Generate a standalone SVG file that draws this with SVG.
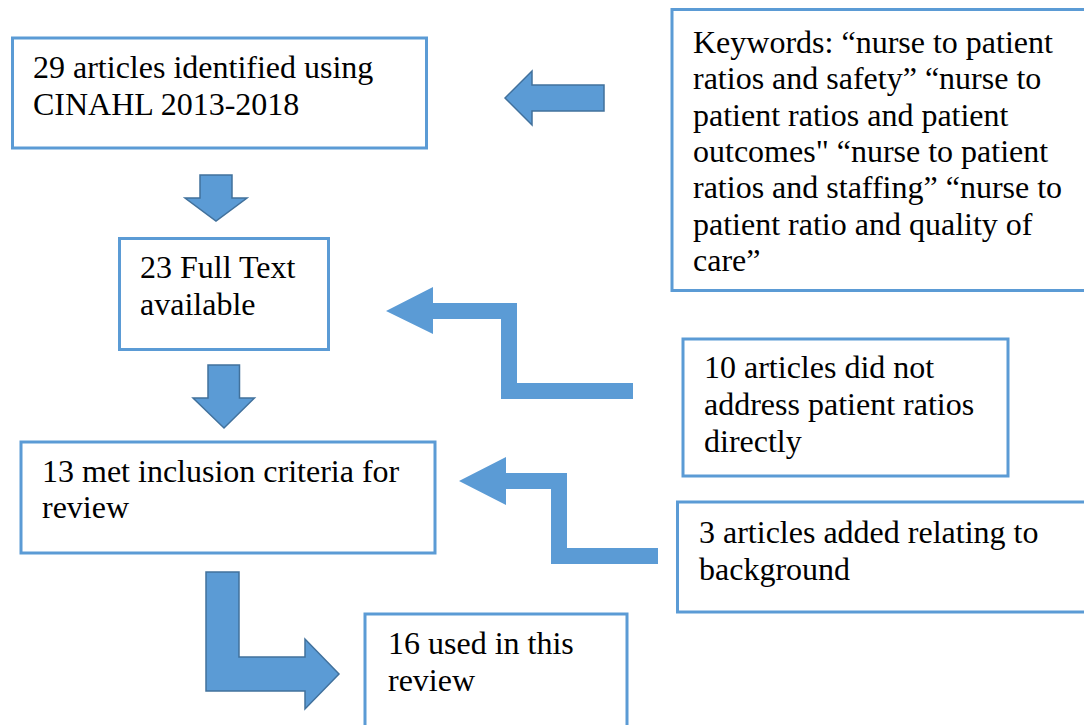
<svg xmlns="http://www.w3.org/2000/svg" width="1084" height="725" viewBox="0 0 1084 725">
<style>
.box{fill:#fff;stroke:#5B9BD5;stroke-width:3}
.t{font-family:'Liberation Serif','Times New Roman',serif;font-size:32px;fill:#000}
.arr{fill:#5B9BD5;stroke:#41719C;stroke-width:1.5;stroke-linejoin:miter}
.arr2{fill:#5B9BD5;stroke:none}
</style>
<rect width="1084" height="725" fill="#fff"/>
<g id="connectors">
<polygon class="arr" points="505,98 532,71 532,85 604,85 604,111 532,111 532,125"/>
<polygon class="arr" points="200,175 232,175 232,198 247,198 216,221 185,198 200,198"/>
<polygon class="arr" points="208,365 239.5,365 239.5,398 254.5,398 224,428 193,398 208,398"/>
<polygon class="arr2" points="386,311 433,287 433,303 517,303 517,383 633,383 633,399 501,399 501,319 433,319 433,334"/>
<polygon class="arr2" points="459,481 506,457 506,473 567,473 567,548 658,548 658,564 551,564 551,489 506,489 506,505"/>
<polygon class="arr" points="206,572 239,572 239,657 305,657 305,639 339,674 305,709 305,691 206,691"/>
</g>
<g id="n1">
<rect class="box" x="12.5" y="38" width="414" height="110"/>
<text class="t" x="33" y="78">29 articles identified using</text>
<text class="t" x="33" y="115">CINAHL 2013-2018</text>
</g>
<g id="n-keywords">
<rect class="box" x="672" y="9.5" width="420" height="281"/>
<text class="t" x="693" y="53">Keywords: “nurse to patient</text>
<text class="t" x="693" y="89">ratios and safety” “nurse to</text>
<text class="t" x="693" y="125.5">patient ratios and patient</text>
<text class="t" x="693" y="162">outcomes" “nurse to patient</text>
<text class="t" x="693" y="198">ratios and staffing” “nurse to</text>
<text class="t" x="693" y="234.5">patient ratio and quality of</text>
<text class="t" x="693" y="271">care”</text>
</g>
<g id="n2">
<rect class="box" x="119.5" y="238.5" width="209" height="111"/>
<text class="t" x="140" y="278">23 Full Text</text>
<text class="t" x="140" y="315">available</text>
</g>
<g id="n-excluded">
<rect class="box" x="683" y="339" width="325" height="137"/>
<text class="t" x="704" y="378">10 articles did not</text>
<text class="t" x="704" y="415">address patient ratios</text>
<text class="t" x="704" y="452">directly</text>
</g>
<g id="n-added">
<rect class="box" x="677.5" y="502" width="420" height="110"/>
<text class="t" x="699" y="543">3 articles added relating to</text>
<text class="t" x="699" y="580">background</text>
</g>
<g id="n3">
<rect class="box" x="21" y="442" width="414" height="111"/>
<text class="t" x="42" y="482">13 met inclusion criteria for</text>
<text class="t" x="42" y="518">review</text>
</g>
<g id="n4">
<rect class="box" x="365" y="614" width="262" height="120"/>
<text class="t" x="388" y="654">16 used in this</text>
<text class="t" x="388" y="691">review</text>
</g>
</svg>
